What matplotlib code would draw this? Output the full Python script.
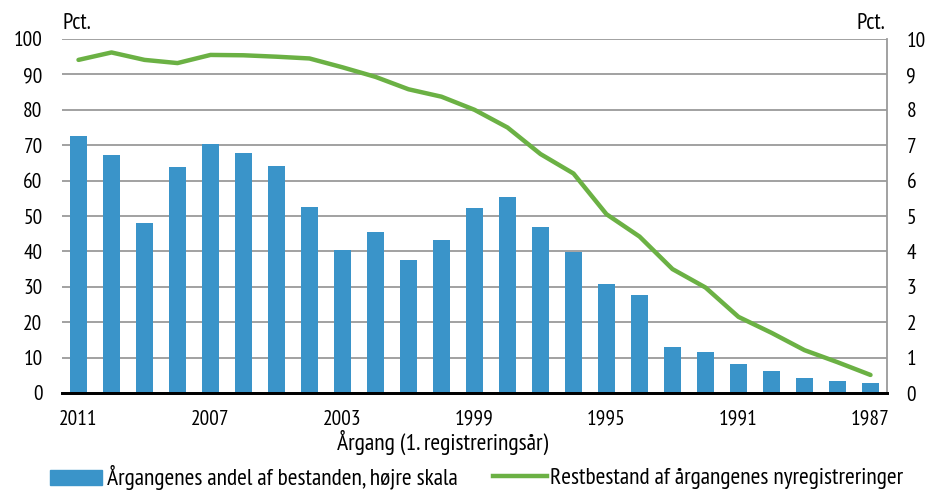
import numpy as np
import matplotlib
matplotlib.use('Agg')
import matplotlib.pyplot as plt
from matplotlib import font_manager as fm
from matplotlib.lines import Line2D
from matplotlib.patches import Patch

years = list(range(2011, 1986, -1))
# Årgangenes andel af bestanden (right axis, pct.)
share = [7.26, 6.72, 4.79, 6.38, 7.03, 6.78, 6.41, 5.25, 4.04, 4.54, 3.75, 4.32,
         5.23, 5.54, 4.70, 3.99, 3.08, 2.77, 1.30, 1.15, 0.81, 0.62, 0.41, 0.35, 0.29]
# Restbestand af årgangenes nyregistreringer (left axis, pct.)
rest = [94.1, 96.2, 94.1, 93.2, 95.5, 95.4, 95.0, 94.5, 92.0, 89.3, 85.8, 83.7,
        80.0, 75.0, 67.5, 62.0, 50.5, 44.2, 35.0, 29.8, 21.5, 17.0, 12.1, 8.7, 5.1]
tick_years = [2011, 2007, 2003, 1999, 1995, 1991, 1987]
labels = ['Årgangenes andel af bestanden, højre skala',
          'Restbestand af årgangenes nyregistreringer']

# pick a condensed sans (the original is in a Myriad-like narrow face)
have = {f.name for f in fm.fontManager.ttflist}
cands = ['PT Sans Narrow', 'Fira Sans Condensed', 'Open Sans Condensed', 'Roboto Condensed',
         'Encode Sans Semi Condensed', 'Liberation Sans Narrow', 'Archivo Narrow',
         'Asap Condensed', 'IBM Plex Sans Condensed', 'Liberation Sans']
font = next(c for c in cands if c in have)
plt.rcParams['font.family'] = [font, 'DejaVu Sans']

blue = '#3a94c9'
green = '#6bb144'
W, H = 929, 491

fig = plt.figure(figsize=(W / 100, H / 100), dpi=100)
renderer = fig.canvas.get_renderer()


def fit(s, width_px, base=14.0):
    t = fig.text(0, 0, s, fontsize=base)
    w = t.get_window_extent(renderer).width
    t.remove()
    return base * width_px / w


fs_tick = fit('2011', 39)
fs_leg = fit(labels[0], 353)
fs_xl = fit('Årgang (1. registreringsår)', 213)
fs_pct = fit('Pct.', 29)
em = fs_leg * 100 / 72

left, right, top, bottom = 62, 887, 39, 393
ax = fig.add_axes([left / W, 1 - bottom / H, (right - left) / W, (bottom - top) / H])
ax2 = ax.twinx()

x = np.arange(len(years))
ax2.bar(x, share, width=0.52, color=blue, zorder=2)
ax2.set_ylim(0, 10)
ax2.set_yticks(range(0, 11))
ax2.yaxis.grid(True, color='#9a9a9a', linewidth=1.3, zorder=0)
ax2.set_axisbelow(True)

ax.plot(x, rest, color=green, linewidth=3.2, solid_capstyle='round')
ax.set_ylim(0, 100)
ax.set_yticks(range(0, 101, 10))
ax.set_xlim(-0.5, len(years) - 0.5)
ax.set_zorder(ax2.get_zorder() + 1)
ax.patch.set_visible(False)

ax.set_xticks([years.index(y) for y in tick_years])
ax.set_xticklabels([str(y) for y in tick_years])

for a in (ax, ax2):
    a.tick_params(length=0, labelsize=fs_tick, labelcolor='black')
    for s in ('top', 'left'):
        a.spines[s].set_visible(False)
    a.spines['bottom'].set_color('black')
    a.spines['bottom'].set_linewidth(2)
    a.spines['right'].set_color('#9a9a9a')
    a.spines['right'].set_linewidth(1.3)
ax.spines['right'].set_visible(False)
ax.tick_params(axis='y', pad=14)
ax2.tick_params(axis='y', pad=14)
ax.tick_params(axis='x', pad=12)

fig.text(443 / W, 1 - 450 / H, 'Årgang (1. registreringsår)', fontsize=fs_xl,
         ha='center', va='baseline')
fig.text(63 / W, 1 - 29 / H, 'Pct.', fontsize=fs_pct, ha='left', va='baseline')
fig.text(885 / W, 1 - 29 / H, 'Pct.', fontsize=fs_pct, ha='right', va='baseline')

fig.legend([Patch(color=blue)], [labels[0]], loc='center left',
           bbox_to_anchor=(50 / W, 1 - 478 / H), frameon=False, fontsize=fs_leg,
           handlelength=52 / em, handleheight=0.6, handletextpad=5 / em,
           borderpad=0, borderaxespad=0)
fig.legend([Line2D([], [], color=green, linewidth=3.2)], [labels[1]], loc='center left',
           bbox_to_anchor=(493 / W, 1 - 478 / H), frameon=False, fontsize=fs_leg,
           handlelength=54 / em, handletextpad=3 / em,
           borderpad=0, borderaxespad=0)

fig.savefig('out.png', dpi=100)
